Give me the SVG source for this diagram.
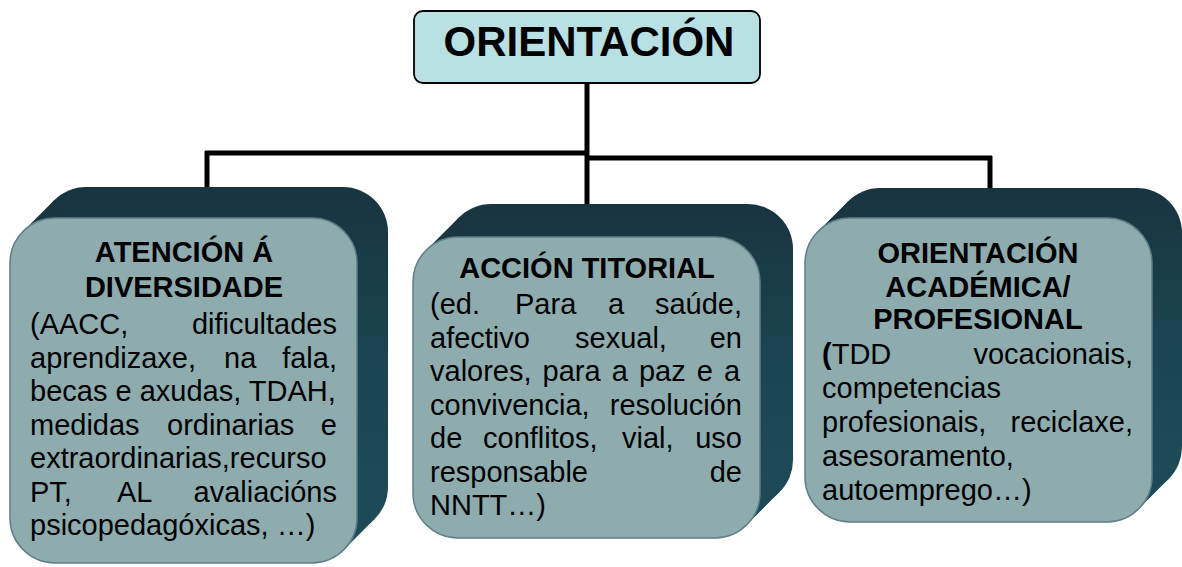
<svg xmlns="http://www.w3.org/2000/svg" width="1182" height="567" viewBox="0 0 1182 567">
<defs>
<linearGradient id="ext" x1="0" y1="0" x2="0" y2="1">
<stop offset="0" stop-color="#183440"/>
<stop offset="0.5" stop-color="#1c4452"/>
<stop offset="1" stop-color="#1e4b58"/>
</linearGradient>
</defs>
<style>
.ext{fill:url(#ext);stroke:none}
.face{fill:#8eacae;stroke:#5e7f86;stroke-width:1.5}
.t{font-family:"Liberation Sans",Arial,sans-serif;font-size:29px;fill:#000}
.b{font-weight:bold}
.c{text-anchor:middle}
.e{text-anchor:end}
.con{stroke:#000;stroke-width:5;fill:none}
</style>
<rect width="1182" height="567" fill="#fff"/>
<g id="connectors">
<line class="con" x1="587" y1="83" x2="587" y2="205"/>
<line class="con" x1="205" y1="153" x2="589" y2="153"/>
<line class="con" x1="587" y1="158" x2="992" y2="158"/>
<line class="con" x1="207" y1="151" x2="207" y2="190"/>
<line class="con" x1="990" y1="156" x2="990" y2="190"/>
</g>
<g id="root">
<rect x="414" y="11" width="346" height="72" rx="9" fill="#b9e0e3" stroke="#000" stroke-width="1.8"/>
<text class="t b c" x="589" y="56" style="font-size:42px">ORIENTACIÓN</text>
</g>
<g id="node-diversidade">
<rect class="ext" x="41" y="187" width="347" height="345" rx="45"/>
<polygon class="ext" points="23.2,231.2 54.2,200.2 374.8,518.8 343.8,549.8"/>
<rect class="face" x="10" y="218" width="347" height="345" rx="45"/>
<text class="t b c" x="184" y="262">ATENCIÓN Á</text>
<text class="t b c" x="184" y="297">DIVERSIDADE</text>
<text class="t" x="30" y="334">(AACC,</text><text class="t e" x="337" y="334">dificultades</text>
<text class="t" x="30" y="368">aprendizaxe,</text><text class="t" x="224" y="368">na</text><text class="t e" x="337" y="368">fala,</text>
<text class="t" x="30" y="401">becas e axudas, TDAH,</text>
<text class="t" x="30" y="435">medidas</text><text class="t" x="167" y="435">ordinarias</text><text class="t e" x="337" y="435">e</text>
<text class="t" x="30" y="468">extraordinarias,recurso</text>
<text class="t" x="30" y="502">PT,</text><text class="t" x="117" y="502">AL</text><text class="t e" x="337" y="502">avaliacións</text>
<text class="t" x="30" y="535">psicopedagóxicas, …)</text>
</g>
<g id="node-titorial">
<rect class="ext" x="446" y="204" width="347" height="301" rx="45"/>
<polygon class="ext" points="426.2,250.2 459.2,217.2 779.8,491.8 746.8,524.8"/>
<rect class="face" x="413" y="237" width="347" height="301" rx="45"/>
<text class="t b c" x="587" y="278">ACCIÓN TITORIAL</text>
<text class="t" x="430" y="314">(ed.</text><text class="t" x="515" y="314">Para</text><text class="t" x="608" y="314">a</text><text class="t e" x="742" y="314">saúde,</text>
<text class="t" x="430" y="348">afectivo</text><text class="t" x="575" y="348">sexual,</text><text class="t e" x="742" y="348">en</text>
<text class="t" x="430" y="381" style="word-spacing:3px">valores, para a paz e a</text>
<text class="t" x="430" y="415">convivencia,</text><text class="t e" x="742" y="415">resolución</text>
<text class="t" x="430" y="448">de</text><text class="t" x="483" y="448">conflitos,</text><text class="t" x="622" y="448">vial,</text><text class="t e" x="742" y="448">uso</text>
<text class="t" x="430" y="482">responsable</text><text class="t e" x="742" y="482">de</text>
<text class="t" x="430" y="515">NNTT…)</text>
</g>
<g id="node-academica">
<rect class="ext" x="835" y="188" width="347" height="304" rx="45"/>
<polygon class="ext" points="818.2,231.2 848.2,201.2 1168.8,478.8 1138.8,508.8"/>
<rect class="face" x="805" y="218" width="347" height="304" rx="45"/>
<text class="t b c" x="978" y="263">ORIENTACIÓN</text>
<text class="t b c" x="978" y="297">ACADÉMICA/</text>
<text class="t b c" x="978" y="329">PROFESIONAL</text>
<text class="t" x="822" y="364"><tspan class="b">(</tspan>TDD</text><text class="t e" x="1133" y="364">vocacionais,</text>
<text class="t" x="822" y="398">competencias</text>
<text class="t" x="822" y="432">profesionais,</text><text class="t e" x="1133" y="432">reciclaxe,</text>
<text class="t" x="822" y="466">asesoramento,</text>
<text class="t" x="822" y="500">autoemprego…)</text>
</g>
</svg>
